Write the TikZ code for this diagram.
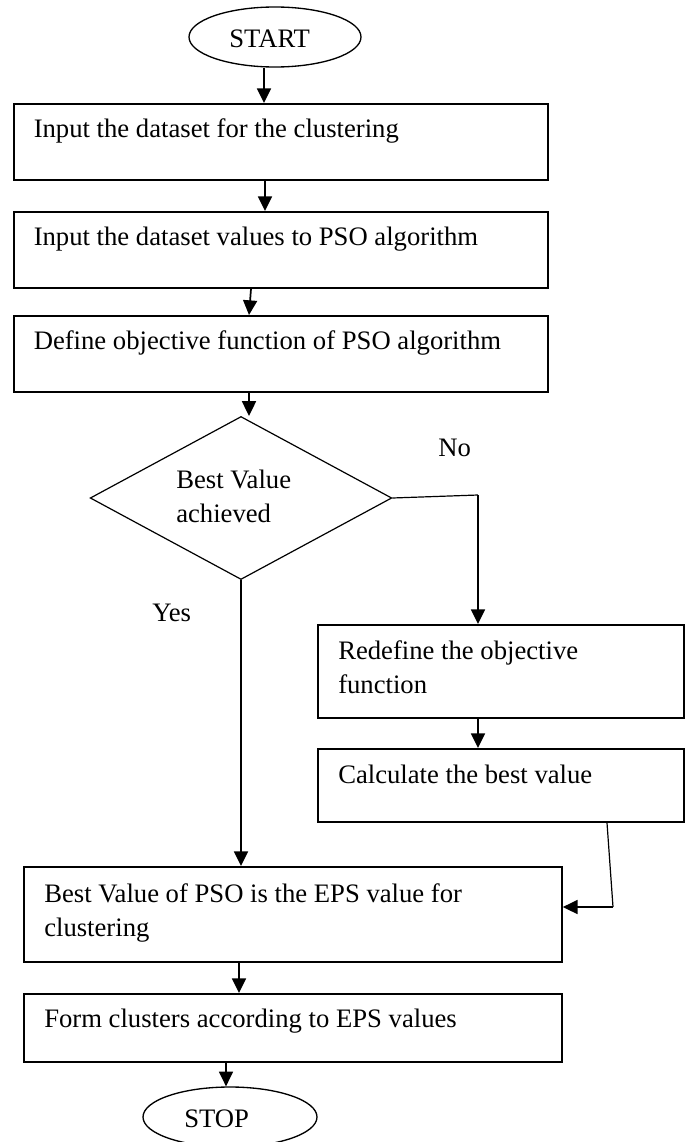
\documentclass[tikz,border=0pt]{standalone}
\usepackage{fontspec}
\setmainfont{Liberation Serif}
\usetikzlibrary{arrows.meta,shapes.geometric}
\begin{document}
\begin{tikzpicture}[x=0.75pt,y=-0.75pt,
  font=\fontsize{20}{25.5}\selectfont,
  sz/.style 2 args={minimum width=#1*0.75pt, minimum height=#2*0.75pt},
  pbox/.style={draw, line width=1.4pt, inner sep=0pt, anchor=north west},
  term/.style={draw, ellipse, line width=1pt, inner sep=0pt},
  dec/.style={draw, diamond, line width=0.9pt, inner sep=0pt},
  txt/.style={anchor=base west, inner sep=0pt},
  arr/.style={line width=1.3pt, -{Triangle[length=11pt,width=10.5pt]}},
  thin/.style={line width=0.9pt}]
\fill[white] (0,0) rectangle (689,1142);
\clip (0,0) rectangle (689,1142);
\useasboundingbox (0,0) rectangle (689,1142);

% terminals
\node[term, sz={172}{60}] (start) at (275,37) {};
\node[txt] (startt) at (229,47) {START};
\node[term, sz={174}{60}] (stop) at (230,1117) {};
\node[txt] (stopt) at (184,1127) {STOP};

% process boxes
\node[pbox, sz={534}{76}] (b1) at (12.7,103) {};
\node[txt] (t1) at (33.5,137) {Input the dataset for the clustering};
\node[pbox, sz={534}{76}] (b2) at (12.7,211) {};
\node[txt] (t2) at (33.5,245) {Input the dataset values to PSO algorithm};
\node[pbox, sz={534}{76}] (b3) at (12.7,315) {};
\node[txt] (t3) at (33.5,349) {Define objective function of PSO algorithm};

% decision
\node[dec, sz={301.6}{163}] (dia) at (241,498) {};
\node[txt] (dt) at (176,488) {\begin{tabular}[t]{@{}l@{}}Best Value\\achieved\end{tabular}};
\node[txt] (no) at (438,456) {No};
\node[txt] (yes) at (152,621) {Yes};

% right branch
\node[pbox, sz={366}{93}] (r1) at (317,624) {};
\node[txt] (rt) at (338,659) {\begin{tabular}[t]{@{}l@{}}Redefine the objective\\function\end{tabular}};
\node[pbox, sz={366}{73}] (c1) at (317,748) {};
\node[txt] (ct) at (338,783) {Calculate the best value};

% lower boxes
\node[pbox, sz={538}{95}] (bv) at (23,866) {};
\node[txt] (bt) at (44,902) {\begin{tabular}[t]{@{}l@{}}Best Value of PSO is the EPS value for\\clustering\end{tabular}};
\node[pbox, sz={538}{68}] (fm) at (23,993) {};
\node[txt] (ft) at (44,1027) {Form clusters according to EPS values};

% connectors
\coordinate (nocorner) at (478,495);
\coordinate (retcorner) at (613,907);
\draw[arr] (264,0 |- start.south) -- (264,0 |- b1.north);
\draw[arr] (265,0 |- b1.south) -- (265,0 |- b2.north);
\draw[arr] (251,0 |- b2.south) -- (249,0 |- b3.north);
\draw[arr] (249,0 |- b3.south) -- (249,0 |- dia.north);
\draw[thin] (dia.east) -- (nocorner);
\draw[arr] (nocorner) -- (nocorner |- r1.north);
\draw[arr] (478,0 |- r1.south) -- (478,0 |- c1.north);
\draw[arr] (dia.south) -- (dia.south |- bv.north);
\draw[thin] (607,0 |- c1.south) -- (retcorner);
\draw[arr] (retcorner) -- (retcorner -| bv.east);
\draw[arr] (239,0 |- bv.south) -- (239,0 |- fm.north);
\draw[arr] (226,0 |- fm.south) -- (226,0 |- stop.north);
\end{tikzpicture}
\end{document}
